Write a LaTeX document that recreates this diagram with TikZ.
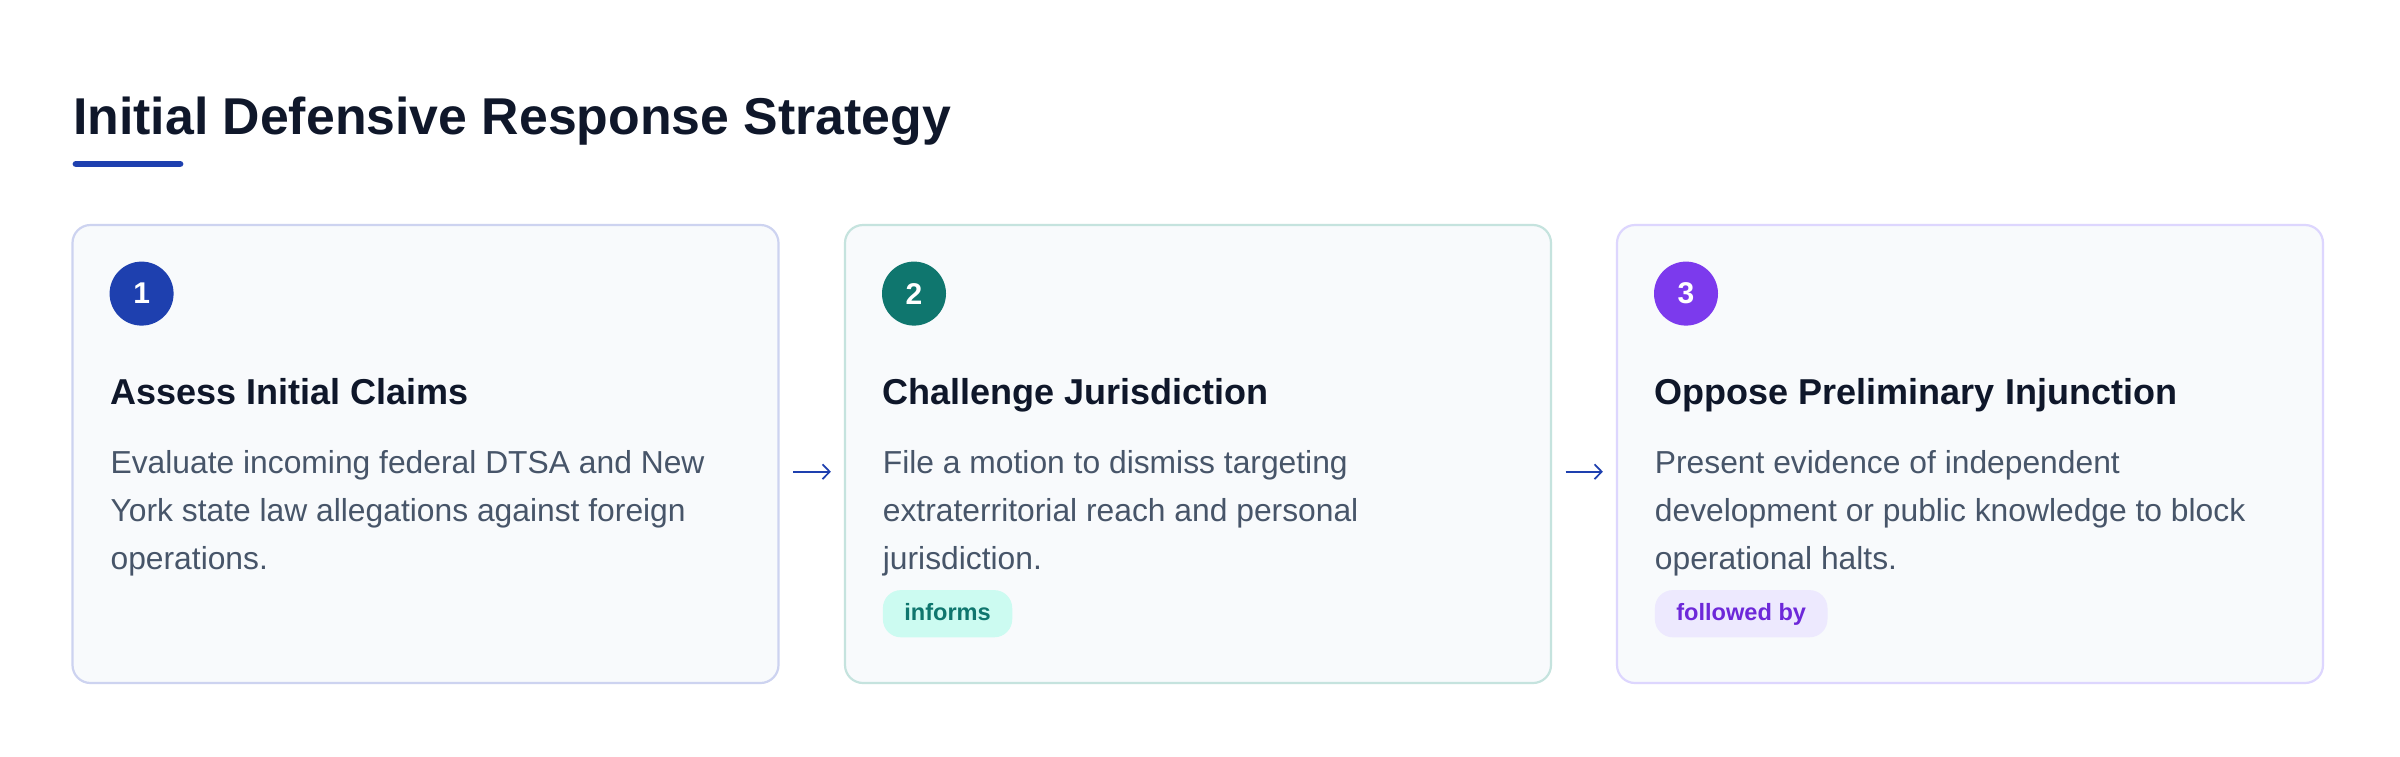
\documentclass[tikz,border=0pt]{standalone}
\usepackage{fontspec}
\setmainfont{Liberation Sans}
\usepackage{tikz}
\usetikzlibrary{arrows.meta}
\definecolor{titlecol}{HTML}{0F172A}
\definecolor{bodycol}{HTML}{475569}
\definecolor{cardfill}{HTML}{F8FAFC}
\definecolor{blueone}{HTML}{1E40AF}
\definecolor{tealtwo}{HTML}{0F766E}
\definecolor{violetthree}{HTML}{7C3AED}
\definecolor{borderone}{HTML}{CDD3F0}
\definecolor{bordertwo}{HTML}{C5E3DE}
\definecolor{borderthree}{HTML}{DDD6FE}
\definecolor{tealbadge}{HTML}{CCFBF1}
\definecolor{violetbadge}{HTML}{EDE9FE}
\definecolor{violettext}{HTML}{6D28D9}
\tikzset{
  card/.style={draw, fill=cardfill, line width=1.1pt, rounded corners=9pt,
    minimum width=353pt, minimum height=229pt, inner sep=0pt},
  stepnum/.style={circle, minimum size=32pt, inner sep=0pt, text=white,
    font=\fontsize{15}{18}\selectfont\bfseries},
  heading/.style={anchor=base west, inner sep=0pt, text=titlecol,
    font=\fontsize{18}{22}\selectfont\bfseries},
  bodytext/.style={anchor=base west, inner sep=0pt, align=left, text=bodycol,
    font=\fontsize{15.9}{24}\selectfont},
  badge/.style={anchor=west, rounded corners=9pt, minimum height=23.6pt,
    inner xsep=10.7pt, inner ysep=0pt, text height=9pt, text depth=2pt,
    font=\fontsize{11.8}{14}\selectfont\bfseries},
  flow/.style={draw=blueone, line width=0.85pt,
    -{Straight Barb[length=3.6pt,width=7.4pt]}, shorten <=6.75pt, shorten >=6.5pt}
}
\begin{document}
\begin{tikzpicture}[x=0.5pt,y=-0.5pt]
\useasboundingbox[fill=white] (0,0) rectangle (2400,756);
% title
\node[anchor=base west, inner sep=0pt, text=titlecol,
  font=\fontsize{25.9}{30}\selectfont\bfseries] (title) at (72.7,134) {Initial Defensive Response Strategy};
\draw[blueone, line width=3.4pt, line cap=round] (76,164) -- (180,164);
% cards
\node[card, draw=borderone] (card1) at (425.5,454) {};
\node[card, draw=bordertwo] (card2) at (1198,454) {};
\node[card, draw=borderthree] (card3) at (1970,454) {};
% step numbers
\node[stepnum, fill=blueone] (num1) at (141.6,293.6) {1};
\node[stepnum, fill=tealtwo] (num2) at (914,293.6) {2};
\node[stepnum, fill=violetthree] (num3) at (1686,293.6) {3};
% headings
\node[heading] (head1) at (110.2,404) {Assess Initial Claims};
\node[heading] (head2) at (882.5,404) {Challenge Jurisdiction};
\node[heading] (head3) at (1654.5,404) {Oppose Preliminary Injunction};
% descriptions (base sits on the last line)
\node[bodytext] (desc1) at (110.2,569) {Evaluate incoming federal DTSA and New\\York state law allegations against foreign\\operations.};
\node[bodytext] (desc2) at (882.5,569) {File a motion to dismiss targeting\\extraterritorial reach and personal\\jurisdiction.};
\node[bodytext] (desc3) at (1654.5,569) {Present evidence of independent\\development or public knowledge to block\\operational halts.};
% badges
\node[badge, fill=tealbadge, text=tealtwo] (tag2) at (882.5,613.7) {informs};
\node[badge, fill=violetbadge, text=violettext] (tag3) at (1654.5,613.7) {followed by};
% arrows between cards
\draw[flow] ([yshift=-8.85pt]card1.east) -- ([yshift=-8.85pt]card2.west);
\draw[flow] ([yshift=-8.85pt]card2.east) -- ([yshift=-8.85pt]card3.west);
\end{tikzpicture}
\end{document}
